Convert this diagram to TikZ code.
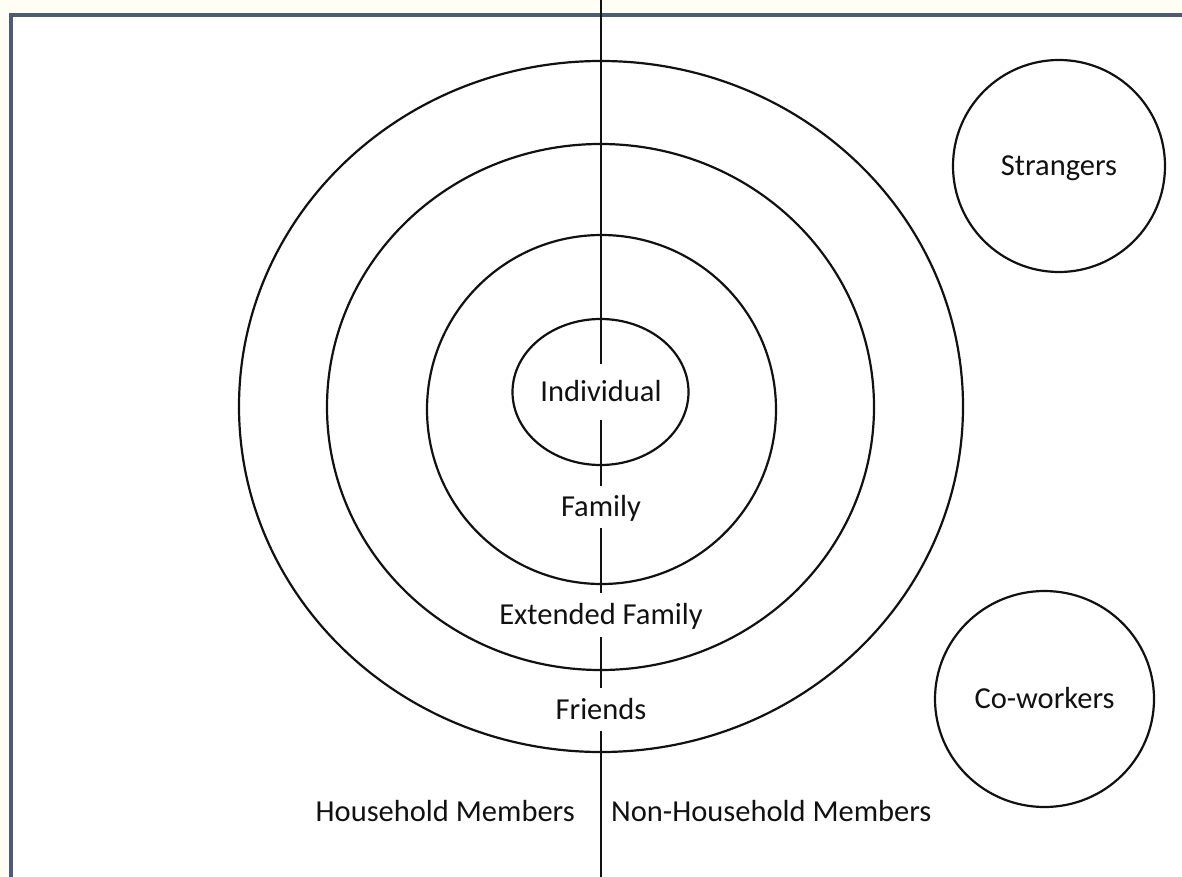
\documentclass[tikz,border=0pt]{standalone}
\usepackage{fontspec}
\setmainfont{Carlito}
\usetikzlibrary{shapes.geometric}
\definecolor{framecol}{HTML}{4A5C78}
\definecolor{outside}{HTML}{FFFDF4}
\definecolor{inkcol}{HTML}{111111}
\begin{document}
\begin{tikzpicture}[x=1pt,y=-1pt,
  ring/.style={draw=inkcol,line width=2.2pt,shape=ellipse,inner sep=0pt},
  lbl/.style={font=\fontsize{30.5}{36}\selectfont,text=inkcol,text height=19.6pt,text depth=0pt,inner xsep=2pt,inner ysep=0pt},
  divider/.style={draw=inkcol,line width=2.5pt}]
\useasboundingbox (0,0) rectangle (1182,877);
\clip (0,0) rectangle (1182,877);
\fill[outside] (0,0) rectangle (1182,877);
\draw[framecol,line width=3.5pt,fill=white] (11,15) rectangle (1200,900);
% rings
\node[ring,minimum width=724pt,minimum height=691pt] (outer) at (601,406.5) {};
\node[ring,minimum width=547pt,minimum height=526pt] (second) at (600.5,407) {};
\node[ring,minimum width=349pt,minimum height=349pt] (third) at (601.5,409.5) {};
\node[ring,minimum width=176pt,minimum height=146pt] (inner) at (600.5,392) {};
% side circles
\node[ring,minimum width=212pt,minimum height=212pt] (strangers) at (1059,166) {};
\node[lbl] at (strangers.center) {Strangers};
\node[ring,minimum width=219pt,minimum height=216pt] (coworkers) at (1044.5,699) {};
\node[lbl] at (coworkers.center) {Co-workers};
% labels on the divider
\node[lbl,minimum height=56pt] (ind) at (601,392) {Individual};
\node[lbl,minimum height=42pt] (fam) at (601,507) {Family};
\node[lbl,minimum height=44pt] (ext) at (601,615) {Extended Family};
\node[lbl,minimum height=42pt] (fri) at (601,709.5) {Friends};
\node[lbl,anchor=east,inner xsep=0pt] (hh) at (575,812) {Household Members};
\node[lbl,anchor=west,inner xsep=0pt] (nhh) at (611,812) {Non-Household Members};
% divider
\coordinate (top) at (601,0);
\coordinate (bot) at (601,877);
\draw[divider] (top) -- (ind.north);
\draw[divider] (ind.south) -- (fam.north);
\draw[divider] (fam.south) -- (ext.north);
\draw[divider] (ext.south) -- (fri.north);
\draw[divider] (fri.south) -- (bot);
\end{tikzpicture}
\end{document}
